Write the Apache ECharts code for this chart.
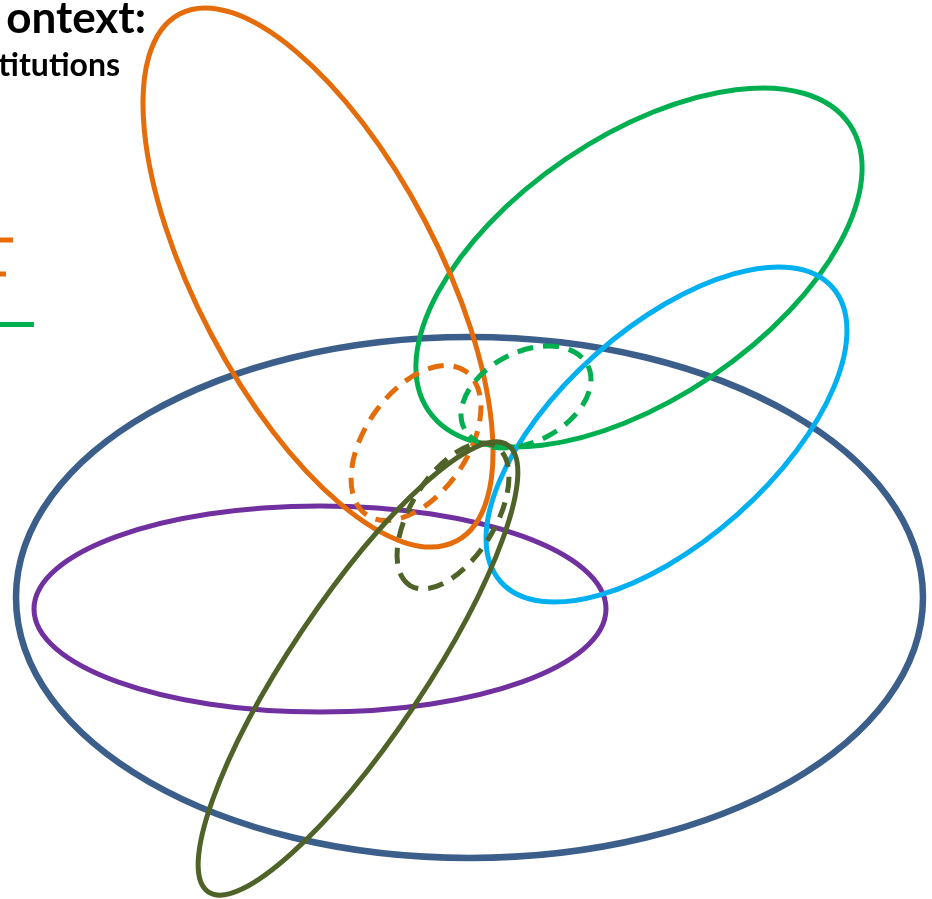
<!DOCTYPE html>
<html>
<head>
<meta charset="utf-8">
<script src="https://cdn.jsdelivr.net/npm/echarts@6/dist/echarts.min.js"></script>
<style>
html,body{margin:0;padding:0;background:#fff;}
#chart{width:932px;height:899px;}
</style>
</head>
<body>
<div id="chart"></div>
<script>
// ---- data (pixel-like units) ----
const shapeNames = ['blue', 'purple', 'green', 'cyan', 'orange', 'orangeDashed', 'greenDashed', 'oliveDashed', 'olive'];
const centerX   = [469.5, 320, 639, 666.5, 318, 416, 526, 453, 358];
const centerY   = [597.5, 609, 267.5, 434.5, 277.5, 443, 397, 516, 668.5];
const semiMajor = [453.5, 286, 254.6, 221.8, 297.7, 87.2, 69.4, 81.7, 269];
const semiMinor = [260.5, 103, 130.9, 106.9, 121, 51.2, 44.8, 42.2, 67.5];
const tiltDeg   = [0, 0, 34.2, 41.6, -62.3, 55.5, 27.4, 58.3, 56.2];
const titleLines = ['ontext:', 'titutions'];

// ---- styles ----
const strokeColors = ['#3B5E8B', '#7030A0', '#00B050', '#00B0F0', '#E46C0A', '#E46C0A', '#00B050', '#4F6228', '#4F6228'];
const strokeWidths = [6.5, 5, 5, 5, 5, 5, 5, 5, 5];
const dashed       = [false, false, false, false, false, true, true, true, false];

const chart = echarts.init(document.getElementById('chart'), null, {renderer: 'canvas'});

const series = shapeNames.map(function (name, i) {
  return {
    type: 'custom',
    name: name,
    coordinateSystem: 'cartesian2d',
    clip: false,
    silent: true,
    z: 2 + i,
    data: [[centerX[i], centerY[i], semiMajor[i], semiMinor[i], tiltDeg[i]]],
    renderItem: function (params, api) {
      const c = api.coord([api.value(0), api.value(1)]);
      const sz = api.size([api.value(2), api.value(3)]);
      return {
        type: 'ellipse',
        x: c[0],
        y: c[1],
        rotation: api.value(4) * Math.PI / 180,
        shape: {cx: 0, cy: 0, rx: sz[0], ry: sz[1]},
        style: {
          fill: 'none',
          stroke: strokeColors[i],
          lineWidth: strokeWidths[i],
          lineDash: dashed[i] ? [16, 10] : null
        }
      };
    }
  };
});

chart.setOption({
  animation: false,
  backgroundColor: '#ffffff',
  grid: {left: 0, right: 0, top: 0, bottom: 0},
  xAxis: {type: 'value', min: 0, max: 932, show: false},
  yAxis: {type: 'value', min: 0, max: 899, inverse: true, show: false},
  graphic: [
    {type: 'text', right: 932 - 146, top: -3.5, style: {text: titleLines[0], font: 'bold 44px Lato', fill: '#000'}},
    {type: 'text', right: 932 - 120, top: 49.5, style: {text: titleLines[1], font: 'bold 32px Lato', fill: '#000'}},
    {type: 'line', shape: {x1: 0, y1: 240, x2: 13, y2: 240}, style: {stroke: '#E46C0A', lineWidth: 5}},
    {type: 'line', shape: {x1: 0, y1: 274, x2: 6, y2: 274}, style: {stroke: '#E46C0A', lineWidth: 5}},
    {type: 'line', shape: {x1: 0, y1: 324.5, x2: 34, y2: 324.5}, style: {stroke: '#00B050', lineWidth: 5}}
  ],
  series: series
});
</script>
</body>
</html>
